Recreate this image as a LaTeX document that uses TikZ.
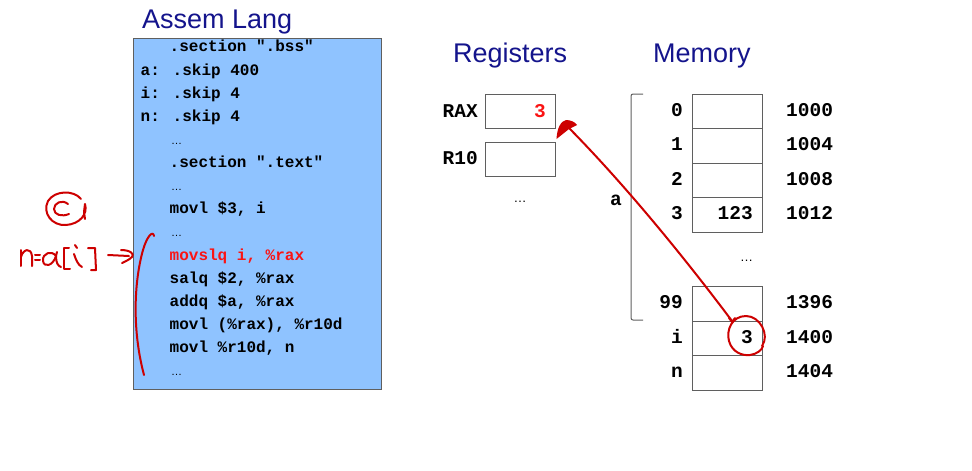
\documentclass[tikz,border=0pt]{standalone}
\usepackage{fontspec}
\setmainfont{Liberation Sans}
\newfontfamily\codefont{Liberation Mono}
\definecolor{codebg}{RGB}{143,195,255}
\definecolor{titleblue}{RGB}{20,20,140}
\definecolor{handred}{RGB}{205,0,0}
\definecolor{codered}{RGB}{250,20,20}
\definecolor{cellgray}{RGB}{95,95,95}
\begin{document}
\begin{tikzpicture}[x=1pt,y=-1pt,
  title/.style={anchor=base west, inner sep=0, text=titleblue, font=\fontsize{27}{32}\selectfont},
  codeline/.style={anchor=base west, inner sep=0, font=\codefont\bfseries\fontsize{16}{19}\selectfont},
  dots/.style={anchor=base west, inner sep=0, font=\fontsize{11}{13}\selectfont},
  bigdots/.style={anchor=base, inner sep=0, font=\fontsize{13}{15}\selectfont},
  cell/.style={draw=cellgray, line width=1pt, minimum width=70pt, minimum height=34.5pt, inner sep=0},
  memlabel/.style={inner sep=0, font=\codefont\bfseries\fontsize{19.5}{23}\selectfont},
  handline/.style={draw=handred, line width=2pt, line cap=round, line join=round},
]
\useasboundingbox (0,0) rectangle (972,471);

% titles
\node[title] (t1) at (142,28) {Assem Lang};
\node[title] (t2) at (453,62.7) {Registers};
\node[title] (t3) at (653,62.7) {Memory};

% code box
\node[draw=cellgray, fill=codebg, line width=1pt, minimum width=248.4pt, minimum height=351pt, inner sep=0] (code) at (257.5,213.5) {};

\node[codeline] (c0) at (169.5,51.9) {.section ".bss"};
\node[codeline] (c1) at (140.5,75.0) {a: .skip 400};
\node[codeline] (c2) at (140.5,98.1) {i: .skip 4};
\node[codeline] (c3) at (140.5,121.2) {n: .skip 4};
\node[dots] (c4) at (171,144.4) {…};
\node[codeline] (c5) at (169.5,167.5) {.section ".text"};
\node[dots] (c6) at (171,190.6) {…};
\node[codeline] (c7) at (169.5,213.7) {movl \$3, i};
\node[dots] (c8) at (171,236.8) {…};
\node[codeline, text=codered] (c9) at (169.5,260.0) {movslq i, \%rax};
\node[codeline] (c10) at (169.5,283.1) {salq \$2, \%rax};
\node[codeline] (c11) at (169.5,306.2) {addq \$a, \%rax};
\node[codeline] (c12) at (169.5,329.3) {movl (\%rax), \%r10d};
\node[codeline] (c13) at (169.5,352.4) {movl \%r10d, n};
\node[dots] (c14) at (171,375.6) {…};

% registers
\node[cell] (rax) at (520.7,111.3) {};
\node[cell] (r10) at (520.7,159.3) {};
\node[memlabel, anchor=base east] (raxl) at (478,117) {RAX};
\node[memlabel, anchor=base east] (r10l) at (478,164.5) {R10};
\node[memlabel, anchor=base east, text=codered] (raxv) at (546,117) {3};
\node[bigdots] (regdots) at (520,202) {…};

% memory bracket
\draw[cellgray, line width=1pt, rounded corners=2pt] (643,94) -- (631,94) -- (631,320) -- (643,320);
\node[memlabel, anchor=base] (alab) at (616,205.5) {a};

% memory cells
\foreach \n/\y/\idx/\addr in {m0/111.25/0/1000, m1/145.75/1/1004, m2/180.25/2/1008, m3/214.75/3/1012, m99/303.75/99/1396, mi/338.25/i/1400, mn/372.75/n/1404}{
  \node[cell] (\n) at (727.3,\y) {};
  \node[memlabel, anchor=base east] (\n idx) at (683,\y+5) {\idx};
  \node[memlabel, anchor=base west] (\n addr) at (786,\y+5) {\addr};
}
\node[memlabel, anchor=base east] (m3val) at (753,219.75) {123};
\node[memlabel, anchor=base east] (mival) at (753,343.25) {3};
\node[bigdots] (memdots) at (746.5,261) {…};

% handwritten annotations
% circled C
\draw[handline] (81,199) .. controls (74,190) and (55,190) .. (48,201) .. controls (42,213) and (52,226) .. (66,225) .. controls (80,224) and (88,214) .. (85,204) -- (84,212) -- (85,219);
\draw[handline] (68,204) .. controls (62,199) and (54,203) .. (54,209) .. controls (54,215) and (62,217) .. (69,214);
% n = a[i]
\draw[handline] (21,250) -- (21,266);
\draw[handline] (21,257) .. controls (23,249) and (31,247) .. (32,256) -- (32,266);
\draw[handline] (35,255) -- (40,255);
\draw[handline] (35,260) -- (40,260);
\draw[handline] (56,256) .. controls (52,250) and (42,253) .. (43,261) .. controls (44,268) and (53,266) .. (56,256) -- (57,252);
\draw[handline] (56,256) .. controls (56,263) and (58,266) .. (61,267);
\draw[handline] (69,248) -- (64,248) -- (64,269) -- (70,269);
\draw[handline] (75,245) -- (77,248);
\draw[handline] (74,254) .. controls (76,260) and (78,265) .. (82,267);
\draw[handline] (88,248) -- (95,248) -- (96,270) -- (91,270);
\draw[handline] (108,255) -- (129,256);
\draw[handline] (121,250) .. controls (130,250) and (135,254) .. (132,257) .. controls (129,260) and (124,262) .. (122,263);
% bracket over code
\draw[handline] (154,236) .. controls (153,230) and (147,236) .. (143,250) .. controls (134,282) and (132,330) .. (144,375);

% circle round 3 and arrow to RAX
\coordinate (arrowstart) at (732,321);
\coordinate (arrowend) at (569,128);
\draw[handline] (762,346) .. controls (770,335) and (760,316) .. (746,316) .. controls (732,316) and (726,330) .. (729,341) .. controls (732,352) and (742,356) .. (750,355) .. controls (757,354) and (762,350) .. (763,346);
\draw[handline] (arrowstart) .. controls (690,265) and (630,190) .. (arrowend);
\draw[handline] (729,318) -- (732,322) -- (735,318);
\fill[handred] (556.5,139) .. controls (557,128) and (561,121) .. (566,120) .. controls (571,120) and (575,122) .. (577,125) -- (569,129) -- cycle;
\end{tikzpicture}
\end{document}
